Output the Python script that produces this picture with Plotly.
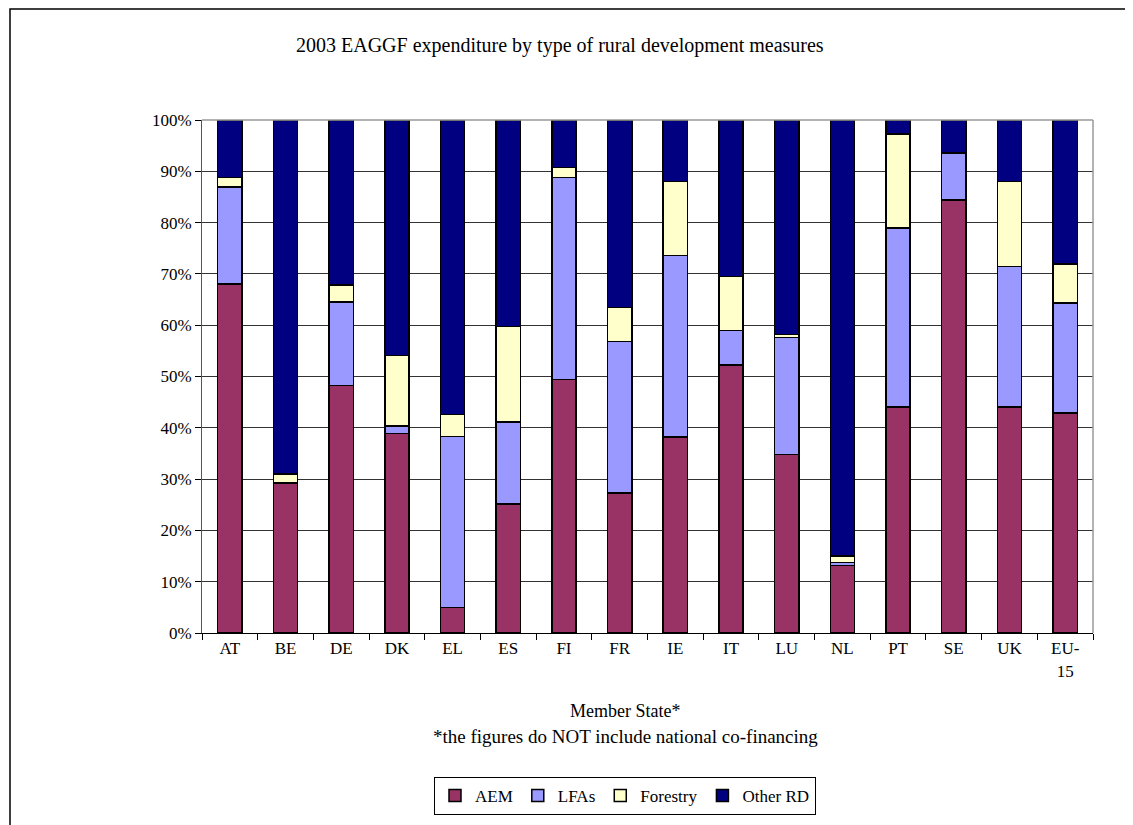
import plotly.graph_objects as go

states = ["AT", "BE", "DE", "DK", "EL", "ES", "FI", "FR", "IE", "IT", "LU", "NL", "PT", "SE", "UK", "EU-<br>15"]
aem = [68.0, 29.2, 48.2, 38.9, 5.0, 25.1, 49.4, 27.3, 38.2, 52.2, 34.8, 13.2, 44.1, 84.4, 44.1, 42.9]
lfas = [18.9, 0.0, 16.3, 1.5, 33.3, 16.0, 39.4, 29.5, 35.4, 6.8, 22.8, 0.5, 34.8, 9.2, 27.3, 21.4]
forestry = [1.9, 1.8, 3.3, 13.7, 4.3, 18.6, 1.9, 6.7, 14.4, 10.5, 0.6, 1.3, 18.4, 0.0, 16.6, 7.6]
other_rd = [11.2, 69.0, 32.2, 45.9, 57.4, 40.3, 9.3, 36.5, 12.0, 30.5, 41.8, 85.0, 2.7, 6.4, 12.0, 28.1]

series = [
    ("AEM", aem, "#993366"),
    ("LFAs", lfas, "#9999FF"),
    ("Forestry", forestry, "#FFFFCC"),
    ("Other RD", other_rd, "#000080"),
]

FONT = "Liberation Serif"

fig = go.Figure()
for name, vals, col in series:
    fig.add_trace(go.Bar(
        x=states, y=vals, name=name,
        marker=dict(color=col, line=dict(color="#000000", width=1.5)),
    ))

# page body has an 8px margin: figure pixel = reference pixel - 8
OFF = 8
W, H = 1133 - OFF, 825 - OFF
L, R, T, B = 202, 1093, 120, 633   # plot area in reference pixels
pw, ph = R - L, B - T

def px(x):
    return (x - L) / pw

def py(y):
    return (B - y) / ph

fig.update_layout(
    width=W, height=H,
    margin=dict(l=L - OFF, r=(1133 - R), t=T - OFF, b=(825 - B), autoexpand=False),
    barmode="stack", bargap=0.565,
    paper_bgcolor="white", plot_bgcolor="white",
    font=dict(family=FONT, size=17, color="black"),
    showlegend=True,
    legend=dict(
        orientation="h", traceorder="normal",
        x=px(625), y=py(796), xanchor="center", yanchor="middle",
        bordercolor="black", borderwidth=1, bgcolor="white",
        font=dict(family=FONT, size=17, color="black"),
        itemwidth=30, tracegroupgap=0,
    ),
    xaxis=dict(
        type="category", tickson="boundaries", ticks="outside", ticklen=6,
        tickcolor="black", showline=True, linecolor="black", linewidth=1,
        mirror=False, showgrid=False, tickfont=dict(family=FONT, size=17),
        tickangle=0,
    ),
    yaxis=dict(
        range=[0, 100], dtick=10, ticksuffix="%", ticks="outside", ticklen=6,
        tickcolor="black", showline=True, linecolor="#555555", linewidth=1,
        showgrid=True, gridcolor="#333333", gridwidth=1, zeroline=False,
        tickfont=dict(family=FONT, size=17),
    ),
    annotations=[
        dict(text="2003 EAGGF expenditure by type of rural development measures",
             xref="paper", yref="paper", x=px(560), y=py(45), showarrow=False,
             xanchor="center", yanchor="middle", font=dict(family=FONT, size=20)),
        dict(text="Member State*", xref="paper", yref="paper", x=px(625), y=py(711),
             showarrow=False, xanchor="center", yanchor="middle",
             font=dict(family=FONT, size=18)),
        dict(text="*the figures do NOT include national co-financing", xref="paper",
             yref="paper", x=px(625), y=py(736), showarrow=False, xanchor="center",
             yanchor="middle", font=dict(family=FONT, size=19)),
    ],
    shapes=[
        dict(type="rect", xref="paper", yref="paper", x0=px(10), x1=px(1131),
             y0=py(860), y1=py(9), line=dict(color="black", width=1.5),
             fillcolor="rgba(0,0,0,0)", layer="below"),
        dict(type="line", xref="paper", yref="paper", x0=1, x1=1, y0=0, y1=1,
             line=dict(color="#999999", width=1.5)),
        dict(type="line", xref="paper", yref="paper", x0=0, x1=1, y0=1, y1=1,
             line=dict(color="#999999", width=1.5)),
    ],
)

fig.write_html("out.html")
